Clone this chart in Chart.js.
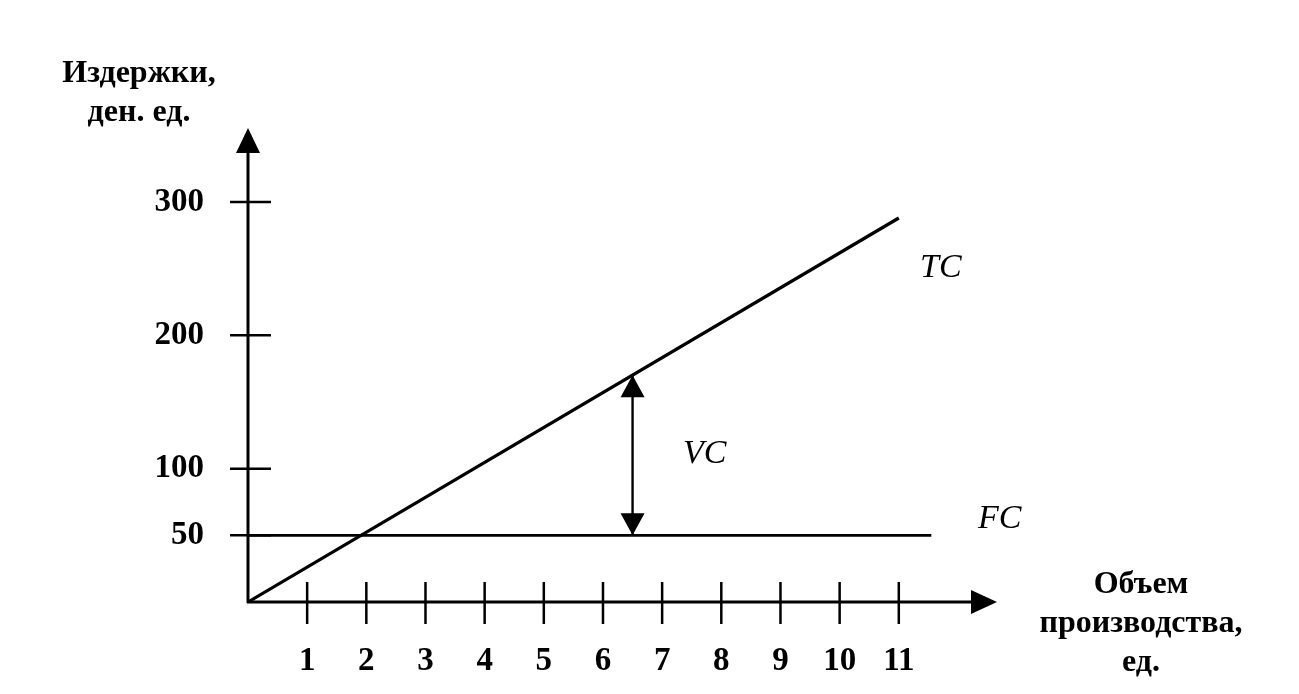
<!DOCTYPE html>
<html lang="ru">
<head>
<meta charset="utf-8">
<title>Издержки</title>
<script src="https://cdn.jsdelivr.net/npm/chart.js@4.4.1/dist/chart.umd.min.js"></script>
<style>
  html, body { margin: 0; padding: 0; background: #fff; }
  #wrap { width: 1299px; height: 694px; }
</style>
</head>
<body>
<div id="wrap"><canvas id="costChart" width="1299" height="694"></canvas></div>
<script>
// данные графика
const volumeTicks = [1, 2, 3, 4, 5, 6, 7, 8, 9, 10, 11]
const costTicks = [50, 100, 200, 300]
const tcVolume = [0, 11]
const tcCost = [0, 288]
const fcVolume = [0, 11.55]
const fcCost = [50, 50]
const vcVolume = [6.5, 6.5]
const vcCost = [50, 170]
const yTitle = ['Издержки,', 'ден. ед.']
const xTitle = ['Объем', 'производства,', 'ед.']

const serif = '"Liberation Serif", "Times New Roman", serif'

// массивы -> точки
const toPoints = (xs, ys) => xs.map((v, i) => ({ x: v, y: ys[i] }))

// треугольная стрелка: вершина в (tx, ty)
function arrowHead(ctx, tx, ty, dir, len, half) {
    ctx.beginPath()
    ctx.moveTo(tx, ty)
    if (dir === 'up') { ctx.lineTo(tx - half, ty + len); ctx.lineTo(tx + half, ty + len) }
    if (dir === 'down') { ctx.lineTo(tx - half, ty - len); ctx.lineTo(tx + half, ty - len) }
    if (dir === 'right') { ctx.lineTo(tx - len, ty - half); ctx.lineTo(tx - len, ty + half) }
    ctx.closePath()
    ctx.fill()
}

function segment(ctx, x1, y1, x2, y2) {
    ctx.beginPath()
    ctx.moveTo(x1, y1)
    ctx.lineTo(x2, y2)
    ctx.stroke()
}

// оси, засечки, стрелки и подписи
const diagramPlugin = {
    id: 'diagram',
    afterDatasetsDraw(chart) {
        const { ctx, chartArea: area, scales: { x, y } } = chart
        const x0 = x.getPixelForValue(0)
        const y0 = y.getPixelForValue(0)
        ctx.save()
        ctx.strokeStyle = '#000'
        ctx.fillStyle = '#000'

        // оси
        ctx.lineWidth = 3
        segment(ctx, x0, y0 + 1, x0, area.top + 20)
        segment(ctx, x0 - 1, y0, area.right - 20, y0)
        arrowHead(ctx, x0, area.top, 'up', 25, 12)
        arrowHead(ctx, area.right, y0, 'right', 26, 12)

        // засечки
        ctx.lineWidth = 2.5
        costTicks.forEach(v => {
            const py = y.getPixelForValue(v)
            segment(ctx, x0 - 18, py, x0 + 23, py)
        })
        volumeTicks.forEach(v => {
            const px = x.getPixelForValue(v)
            segment(ctx, px, y0 - 20, px, y0 + 22)
        })

        // стрелки VC
        const vx = x.getPixelForValue(vcVolume[0])
        arrowHead(ctx, vx, y.getPixelForValue(vcCost[1]), 'up', 22, 12)
        arrowHead(ctx, vx, y.getPixelForValue(vcCost[0]), 'down', 22, 12)

        // названия осей
        ctx.font = 'bold 32px ' + serif
        ctx.textAlign = 'center'
        ctx.textBaseline = 'alphabetic'
        yTitle.forEach((t, i) => ctx.fillText(t, 139, 82 + i * 39))
        xTitle.forEach((t, i) => ctx.fillText(t, 1141, 593 + i * 39))

        // обозначения линий
        ctx.font = 'italic 34px ' + serif
        ctx.textAlign = 'left'
        ctx.fillText('TC', 920, 277)
        ctx.fillText('VC', 683, 463)
        ctx.fillText('FC', 978, 528)
        ctx.restore()
    }
}

const tickFont = { family: serif, size: 33, weight: 'bold' }

const ctx = document.getElementById('costChart').getContext('2d')
const costChart = new Chart(ctx, {
    type: 'scatter',
    data: {
        datasets: [
            { label: 'TC', data: toPoints(tcVolume, tcCost), showLine: true, borderColor: '#000', borderWidth: 3.2, pointRadius: 0 },
            { label: 'FC', data: toPoints(fcVolume, fcCost), showLine: true, borderColor: '#000', borderWidth: 2.6, pointRadius: 0 },
            { label: 'VC', data: toPoints(vcVolume, vcCost), showLine: true, borderColor: '#000', borderWidth: 2.4, pointRadius: 0 }
        ]
    },
    options: {
        responsive: false,
        animation: false,
        layout: { padding: { top: 128, right: 302, left: 0, bottom: 0 } },
        plugins: {
            legend: { display: false },
            tooltip: { enabled: false }
        },
        scales: {
            x: {
                type: 'linear',
                min: 0,
                max: 12.66,
                afterBuildTicks: s => { s.ticks = volumeTicks.map(v => ({ value: v })) },
                afterFit: s => { s.height = 92 },
                grid: { display: false },
                border: { display: false },
                ticks: { padding: 32, font: tickFont, color: '#000', autoSkip: false, maxRotation: 0 }
            },
            y: {
                type: 'linear',
                min: 0,
                max: 355.5,
                afterBuildTicks: s => { s.ticks = costTicks.map(v => ({ value: v })) },
                afterFit: s => { s.width = 248 },
                grid: { display: false },
                border: { display: false },
                ticks: { padding: 36, font: tickFont, color: '#000', autoSkip: false }
            }
        }
    },
    plugins: [diagramPlugin]
})
</script>
</body>
</html>
